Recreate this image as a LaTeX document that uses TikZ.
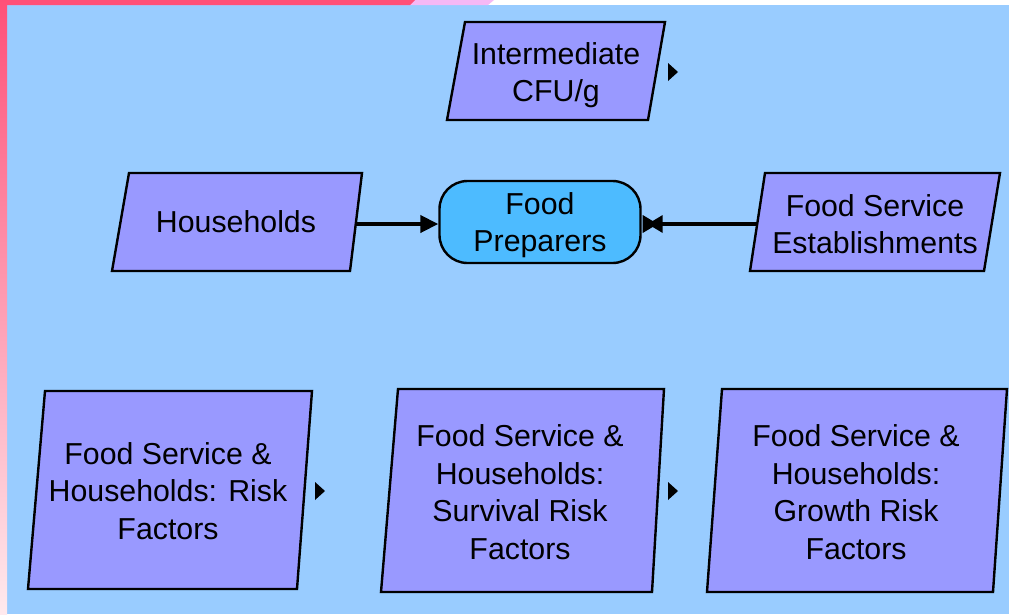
\documentclass[tikz,border=0pt]{standalone}
\usepackage{fontspec}
\setmainfont{Liberation Sans}
\usetikzlibrary{arrows.meta}
\definecolor{bg}{HTML}{99CCFF}
\definecolor{boxfill}{HTML}{9999FF}
\definecolor{prepfill}{HTML}{4DBBFF}
\definecolor{barred}{HTML}{FF5078}
\definecolor{barpink}{HTML}{F5B8F5}
\definecolor{barlight}{HTML}{FFEAEE}
\begin{document}
\begin{tikzpicture}[x=1pt,y=-1pt,
  outline/.style={draw=black,line width=2.4pt,line join=miter,fill=boxfill},
  label/.style={inner sep=0pt,align=center,font=\fontsize{30.3}{37.5}\selectfont},
  prep/.style={draw=black,line width=2.4pt,fill=prepfill,rounded corners=28pt,
    minimum width=201pt,minimum height=82pt,inner sep=0pt},
  feed/.style={line width=4pt},
  tip/.style={fill=black}]
\useasboundingbox (0,0) rectangle (1009,614);
% background and the coloured edge bars
\fill[bg] (0,0) rectangle (1009,614);
\fill[white] (0,0) rectangle (1009,5);
\fill[barpink] (0,0) -- (494,0) -- (488,5) -- (0,5) -- cycle;
\fill[barred] (0,0) -- (415,0) -- (410,5) -- (0,5) -- cycle;
\shade[top color=barred,bottom color=barlight] (0,0) rectangle (7,614);

% intermediate level
\draw[outline] (465,22) -- (665,22) -- (648,120) -- (447,120) -- cycle;
\node[label] (cfu) at (556,75) {Intermediate\\CFU/g};
\coordinate (cfutip) at (668,63);
\fill[tip] (cfutip) -- ++(10,9) -- ++(-10,9) -- cycle;

% preparers row
\draw[outline] (129,173) -- (362,173) -- (350,271) -- (112,271) -- cycle;
\node[label] (hh) at (236,222) {Households};
\coordinate (hhout) at (355,224);

\draw[outline] (765,173) -- (1000,173) -- (984,271) -- (750,271) -- cycle;
\node[label] (fse) at (875,224) {Food Service\\Establishments};
\coordinate (fseout) at (757,224);

\node[prep] (fp) at (540,222) {};
\node[label] (fptext) at (540,225) {Food\\Preparers};

\draw[feed,-{Triangle[length=18pt,width=17pt]}] (hhout) -- (fp.west |- hhout);
\draw[feed] (fseout) -- ([xshift=10pt]fp.east |- fseout);
\coordinate (bow) at ([xshift=1pt]fp.east |- fseout);
\fill[tip] (bow) ++(0,-9) -- ++(10,6) -- ++(10,-6) -- ++(0,18) -- ++(-10,-6) -- ++(-10,6) -- cycle;

% risk factor row
\draw[outline] (45,391) -- (312,391) -- (297,589) -- (28,589) -- cycle;
\node[label] (rf) at (168,491) {Food Service \&\\Households: Risk\\Factors};
\coordinate (rftip) at (315,482);
\fill[tip] (rftip) -- ++(10,9) -- ++(-10,9) -- cycle;

\draw[outline] (398,389) -- (664,389) -- (652,592) -- (381,592) -- cycle;
\node[label] (srf) at (520,492) {Food Service \&\\Households:\\Survival Risk\\Factors};
\coordinate (srftip) at (668,482);
\fill[tip] (srftip) -- ++(10,9) -- ++(-10,9) -- cycle;

\draw[outline] (722,389) -- (1007,389) -- (993,592) -- (707,592) -- cycle;
\node[label] (grf) at (856,492) {Food Service \&\\Households:\\Growth Risk\\Factors};
\end{tikzpicture}
\end{document}
